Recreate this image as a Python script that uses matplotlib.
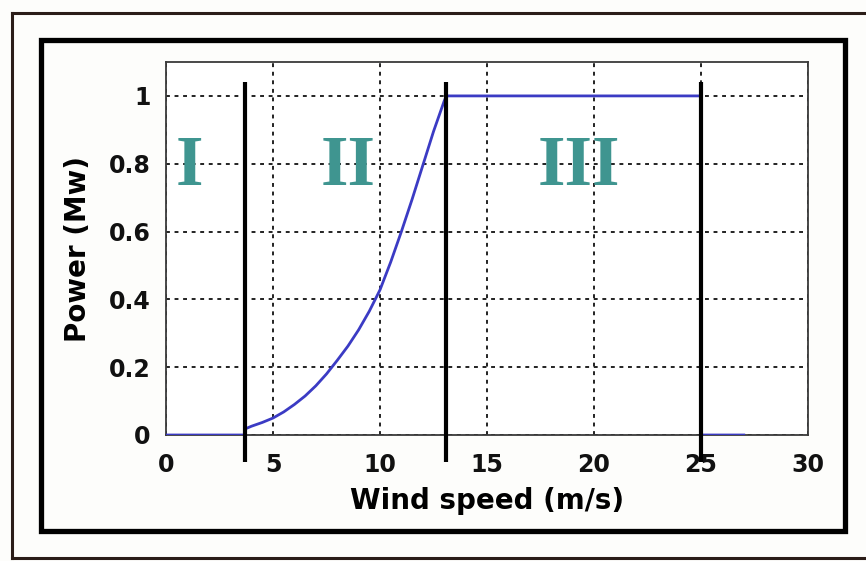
import numpy as np
import matplotlib as mpl
mpl.use('Agg')
import matplotlib.pyplot as plt
from matplotlib.patches import Rectangle
from matplotlib.lines import Line2D

# wind turbine power curve (power in MW vs wind speed)
wind = [0, 3.7, 3.7, 4, 4.5, 5, 5.5, 6, 6.5, 7, 7.5, 8, 8.5, 9, 9.5, 10,
        10.5, 11, 11.5, 12, 12.5, 13, 13.1, 25, 25, 27]
power = [0, 0, 0.018, 0.026, 0.037, 0.05, 0.068, 0.09, 0.115, 0.145, 0.18,
         0.22, 0.262, 0.31, 0.365, 0.428, 0.51, 0.60, 0.695, 0.795, 0.895,
         0.985, 1.0, 1.0, 0, 0]

# operating region boundaries: cut-in, rated, cut-out
bounds = [3.7, 13.1, 25]
regions = ['I', 'II', 'III']
region_x = [1.1, 8.5, 19.3]
region_y = 0.79

xticks = [0, 5, 10, 15, 20, 25, 30]
yticks = [0, 0.2, 0.4, 0.6, 0.8, 1]
ytlabels = ['0', '0.2', '0.4', '0.6', '0.8', '1']

W, H = 866, 561


def fx(px):
    return px / W


def fy(py):
    return 1 - py / H


fig = plt.figure(figsize=(W / 100, H / 100), dpi=100)
fig.patch.set_facecolor('#fdfdfb')

# outer thin frame (open on the right) and inner thick frame
for xs, ys in [([fx(12), fx(870)], [fy(13), fy(13)]),
               ([fx(12), fx(12)], [fy(13), fy(558)]),
               ([fx(12), fx(870)], [fy(558), fy(558)])]:
    fig.add_artist(Line2D(xs, ys, transform=fig.transFigure,
                          color='#2b1d18', lw=2.2))
fig.add_artist(Rectangle((fx(41), fy(531)), fx(845) - fx(41), fy(40) - fy(531),
                         transform=fig.transFigure, fill=False,
                         edgecolor='black', lw=3.8))

ax = fig.add_axes([fx(166), fy(435), fx(808) - fx(166), fy(62) - fy(435)])
ax.set_facecolor('white')
ax.set_xlim(0, 30)
ax.set_ylim(0, 1.1)
ax.set_xticks(xticks)
ax.set_yticks(yticks)
ax.set_yticklabels(ytlabels)
ax.tick_params(axis='both', length=0, labelsize=17, colors='#111111')
ax.tick_params(axis='x', pad=13)
ax.tick_params(axis='y', pad=11)
for lab in ax.get_xticklabels() + ax.get_yticklabels():
    lab.set_fontweight('bold')
for s in ax.spines.values():
    s.set_color('#3a3a3a')
    s.set_linewidth(1.3)

ax.grid(True, color='#222222', linestyle=(0, (2, 2.4)), linewidth=1.4)
ax.set_axisbelow(True)

ax.plot(wind, power, color='#3b3bc4', lw=2.0, zorder=3)

for b in bounds:
    ax.plot([b, b], [-0.08, 1.04], color='black', lw=3.0, clip_on=False,
            zorder=4, solid_capstyle='butt')

for r, x in zip(regions, region_x):
    ax.text(x, region_y, r, ha='center', va='center', fontsize=51,
            fontweight='bold', family='Liberation Serif', color='#3f9590',
            zorder=5)

ax.set_xlabel('Wind speed (m/s)', fontsize=20, fontweight='bold', labelpad=7)
ax.set_ylabel('Power (Mw)', fontsize=20, fontweight='bold', labelpad=12)

fig.savefig('out.png', dpi=100, facecolor=fig.get_facecolor())
plt.close()
